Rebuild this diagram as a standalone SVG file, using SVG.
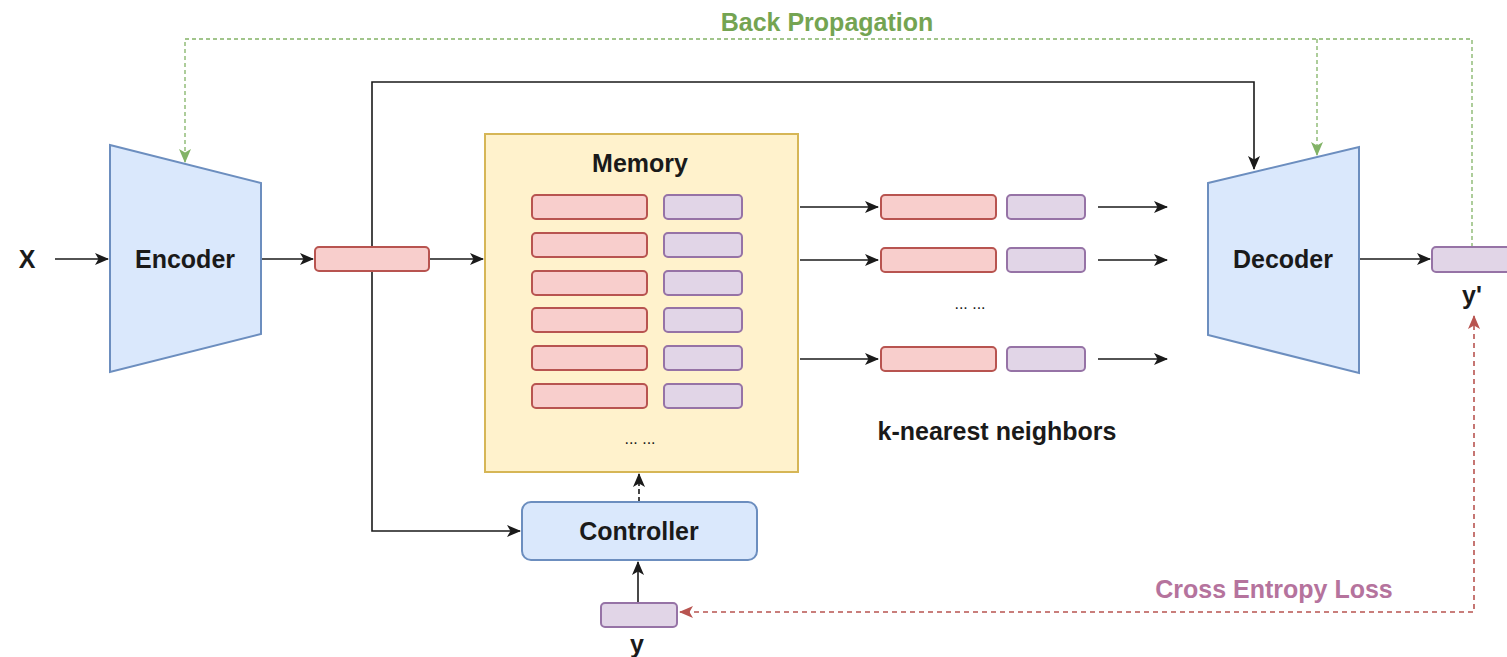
<svg xmlns="http://www.w3.org/2000/svg" width="1507" height="657" viewBox="0 0 1507 657">
<defs>
<style>
.t{font-family:"Liberation Sans",Arial,sans-serif;font-weight:bold;font-size:25px;fill:#1a1a1a;text-anchor:middle}
.red{fill:#f8cecc;stroke:#b85450;stroke-width:2}
.pur{fill:#e1d5e7;stroke:#9673a6;stroke-width:2}
.blue{fill:#dae8fc;stroke:#6c8ebf;stroke-width:2}
.ln{fill:none;stroke:#1a1a1a;stroke-width:1.6}
.gd{fill:none;stroke:#82b366;stroke-width:1.3;stroke-dasharray:4 3}
.rd{fill:none;stroke:#b85450;stroke-width:1.6;stroke-dasharray:5 4}
</style>
<marker id="ab" viewBox="0 0 14 12" refX="13" refY="6" markerWidth="14" markerHeight="12" markerUnits="userSpaceOnUse" orient="auto">
<path d="M0,0 L14,6 L0,12 L3.5,6 Z" fill="#1a1a1a"/>
</marker>
<marker id="ag" viewBox="0 0 14 12" refX="13" refY="6" markerWidth="14" markerHeight="12" markerUnits="userSpaceOnUse" orient="auto">
<path d="M0,0 L14,6 L0,12 L3.5,6 Z" fill="#82b366"/>
</marker>
<marker id="ar" viewBox="0 0 14 12" refX="13" refY="6" markerWidth="14" markerHeight="12" markerUnits="userSpaceOnUse" orient="auto-start-reverse">
<path d="M0,0 L14,6 L0,12 L3.5,6 Z" fill="#b85450"/>
</marker>
</defs>
<rect width="1507" height="657" fill="#ffffff"/>

<g id="connectors">
<line class="ln" x1="55" y1="259" x2="108" y2="259" marker-end="url(#ab)"/>
<line class="ln" x1="261" y1="259" x2="313" y2="259" marker-end="url(#ab)"/>
<line class="ln" x1="429" y1="259" x2="483" y2="259" marker-end="url(#ab)"/>
<polyline class="ln" points="372,259 372,82 1254,82 1254,169" marker-end="url(#ab)"/>
<polyline class="ln" points="372,259 372,531 520,531" marker-end="url(#ab)"/>
<line class="ln" x1="639" y1="502" x2="639" y2="474" stroke-dasharray="5 3" marker-end="url(#ab)"/>
<line class="ln" x1="638" y1="603" x2="638" y2="562" marker-end="url(#ab)"/>
<line class="ln" x1="800" y1="207" x2="878" y2="207" marker-end="url(#ab)"/>
<line class="ln" x1="800" y1="260" x2="878" y2="260" marker-end="url(#ab)"/>
<line class="ln" x1="800" y1="359" x2="878" y2="359" marker-end="url(#ab)"/>
<line class="ln" x1="1098" y1="207" x2="1167" y2="207" marker-end="url(#ab)"/>
<line class="ln" x1="1098" y1="260" x2="1167" y2="260" marker-end="url(#ab)"/>
<line class="ln" x1="1098" y1="359" x2="1167" y2="359" marker-end="url(#ab)"/>
<line class="ln" x1="1359" y1="259" x2="1430" y2="259" marker-end="url(#ab)"/>
<polyline class="gd" points="1472,247 1472,39 185,39 185,162" marker-end="url(#ag)"/>
<line class="gd" x1="1317" y1="39" x2="1317" y2="155" marker-end="url(#ag)"/>
<polyline class="rd" points="1474,316 1474,612 680,612" marker-start="url(#ar)" marker-end="url(#ar)"/>
</g>

<g id="x-label"><text class="t" x="27" y="268">X</text></g>

<g id="encoder">
<polygon class="blue" points="110,145 261,183 261,334 110,372"/>
<text class="t" x="185" y="268">Encoder</text>
</g>

<g id="embedding"><rect class="red" x="315" y="247" width="114" height="24" rx="4"/></g>

<g id="memory">
<rect x="485" y="134" width="313" height="338" fill="#fff2cc" stroke="#d6b656" stroke-width="2"/>
<text class="t" x="640" y="172">Memory</text>
<rect class="red" x="532" y="195" width="115" height="24" rx="4"/>
<rect class="red" x="532" y="233" width="115" height="24" rx="4"/>
<rect class="red" x="532" y="271" width="115" height="24" rx="4"/>
<rect class="red" x="532" y="308" width="115" height="24" rx="4"/>
<rect class="red" x="532" y="346" width="115" height="24" rx="4"/>
<rect class="red" x="532" y="384" width="115" height="24" rx="4"/>
<rect class="pur" x="664" y="195" width="78" height="24" rx="4"/>
<rect class="pur" x="664" y="233" width="78" height="24" rx="4"/>
<rect class="pur" x="664" y="271" width="78" height="24" rx="4"/>
<rect class="pur" x="664" y="308" width="78" height="24" rx="4"/>
<rect class="pur" x="664" y="346" width="78" height="24" rx="4"/>
<rect class="pur" x="664" y="384" width="78" height="24" rx="4"/>
<text x="640" y="444" font-family="Liberation Sans,Arial,sans-serif" font-size="16" fill="#1a1a1a" text-anchor="middle">... ...</text>
</g>

<g id="controller">
<rect class="blue" x="522" y="502" width="235" height="58" rx="9"/>
<text class="t" x="639" y="540">Controller</text>
</g>

<g id="y-vector">
<rect class="pur" x="601" y="603" width="76" height="24" rx="4"/>
<text class="t" x="637" y="653">y</text>
</g>

<g id="knn">
<rect class="red" x="881" y="195" width="115" height="24" rx="4"/>
<rect class="pur" x="1007" y="195" width="78" height="24" rx="4"/>
<rect class="red" x="881" y="248" width="115" height="24" rx="4"/>
<rect class="pur" x="1007" y="248" width="78" height="24" rx="4"/>
<text x="970" y="309" font-family="Liberation Sans,Arial,sans-serif" font-size="16" fill="#1a1a1a" text-anchor="middle">... ...</text>
<rect class="red" x="881" y="347" width="115" height="24" rx="4"/>
<rect class="pur" x="1007" y="347" width="78" height="24" rx="4"/>
<text class="t" x="997" y="440">k-nearest neighbors</text>
</g>

<g id="decoder">
<polygon class="blue" points="1208,183 1359,147 1359,373 1208,335"/>
<text class="t" x="1283" y="268">Decoder</text>
</g>

<g id="y-prime">
<rect class="pur" x="1432" y="247" width="80" height="25" rx="4"/>
<text class="t" x="1472" y="304">y'</text>
</g>

<g id="back-propagation"><text class="t" x="827" y="31" style="fill:#74a452">Back Propagation</text></g>
<g id="cross-entropy"><text class="t" x="1274" y="598" style="fill:#b5739d">Cross Entropy Loss</text></g>
</svg>
